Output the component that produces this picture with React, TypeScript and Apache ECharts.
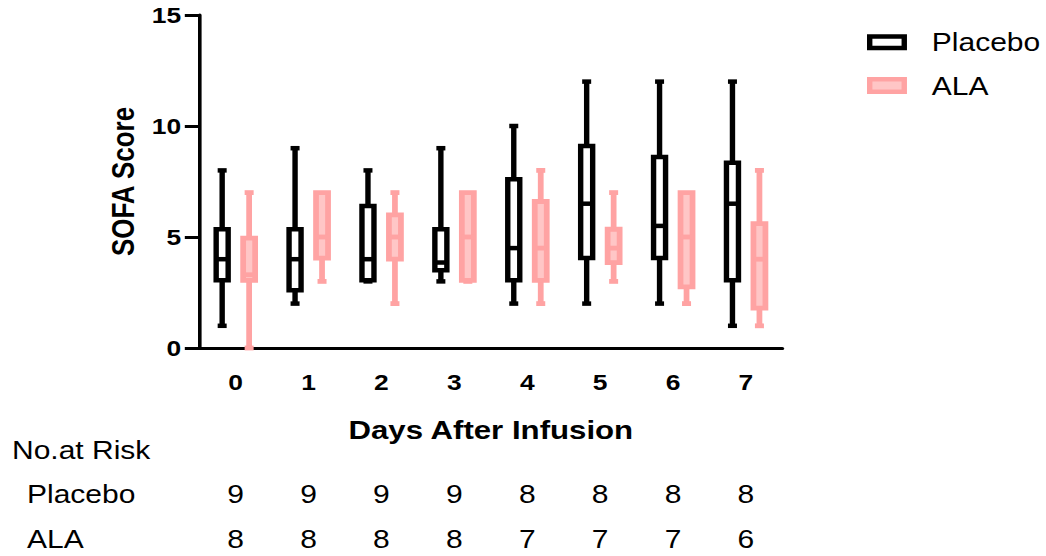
import React, { useEffect, useRef } from "react";
import * as echarts from "echarts";

// ---- data ----
const days = ["0", "1", "2", "3", "4", "5", "6", "7"];
// [min, q1, median, q3, max]
const placeboBox = [
  [1, 3.05, 4, 5.35, 8],
  [2, 2.6, 4, 5.35, 9],
  [3, 3.05, 4, 6.4, 8],
  [3, 3.5, 3.85, 5.35, 9],
  [2, 3.05, 4.5, 7.6, 10],
  [2, 4.05, 6.5, 9.1, 12],
  [2, 4.05, 5.5, 8.6, 12],
  [1, 3.05, 6.5, 8.35, 12],
];
const alaBox = [
  [0, 3.05, 3.3, 4.95, 7],
  [3, 4.05, 5, 7, 7],
  [2, 4, 5, 6, 7],
  [3, 3.05, 5, 7, 7],
  [2, 3.05, 4.5, 6.6, 8],
  [3, 3.85, 4.5, 5.35, 7],
  [2, 2.75, 5, 7, 7],
  [1, 1.8, 4, 5.6, 8],
];
const placeboAtRisk = [9, 9, 9, 9, 8, 8, 8, 8];
const alaAtRisk = [8, 8, 8, 8, 7, 7, 7, 6];
const groupNames = ["Placebo", "ALA"];

const FONT = "Arial, 'Liberation Sans', sans-serif";
const BLACK = "#000000";
const PINK = "#ffa3a3";
const PINK_LIGHT = "#ffc6c6";
const SX = 1.2; // the reference is stretched horizontally
const CHART_W = Math.round(1046 / SX);

function makeRender(offsetFrac: number, stroke: string, fill: string, lw: number) {
  return (params: any, api: any) => {
    const i = api.value(0);
    const band = api.size([1, 0])[0];
    const cx = api.coord([i, 0])[0] + offsetFrac * band;
    const y = (k: number) => api.coord([i, api.value(k)])[1];
    const yMin = y(1), yQ1 = y(2), yMed = y(3), yQ3 = y(4), yMax = y(5);
    const bw = 10;
    const capW = 7.5;
    const ls = { stroke, lineWidth: lw, lineCap: "butt" };
    const children: any[] = [];
    if (yQ3 - yMax > 0.5) {
      children.push({ type: "line", shape: { x1: cx, y1: yMax, x2: cx, y2: yQ3 }, style: ls });
      children.push({ type: "line", shape: { x1: cx - capW / 2, y1: yMax, x2: cx + capW / 2, y2: yMax }, style: ls });
    }
    if (yMin - yQ1 > 0.5) {
      children.push({ type: "line", shape: { x1: cx, y1: yQ1, x2: cx, y2: yMin }, style: ls });
      children.push({ type: "line", shape: { x1: cx - capW / 2, y1: yMin, x2: cx + capW / 2, y2: yMin }, style: ls });
    }
    children.push({
      type: "rect",
      shape: { x: cx - bw / 2, y: yQ3, width: bw, height: yQ1 - yQ3 },
      style: { fill, stroke, lineWidth: lw },
    });
    children.push({
      type: "line",
      shape: { x1: cx - bw / 2, y1: yMed, x2: cx + bw / 2, y2: yMed },
      style: ls,
    });
    return { type: "group", children };
  };
}

export default function App() {
  const ref = useRef<HTMLDivElement>(null);
  useEffect(() => {
    if (!ref.current) return;
    const chart = echarts.init(ref.current, null, { renderer: "svg" });
    const axisLabelBase = { fontFamily: FONT, color: BLACK };
    const option: any = {
      animation: false,
      backgroundColor: "#ffffff",
      grid: { left: 166, top: 15, width: 486, height: 333, outerBoundsMode: "none", containLabel: false },
      xAxis: [
        {
          type: "category",
          data: days,
          axisLine: { lineStyle: { color: BLACK, width: 3 } },
          axisTick: { alignWithLabel: true, length: 12, lineStyle: { color: BLACK, width: 3 } },
          axisLabel: { ...axisLabelBase, fontSize: 22, fontWeight: "bold", margin: 23 },
          name: "Days After Infusion",
          nameLocation: "middle",
          nameGap: 69,
          nameTextStyle: { fontFamily: FONT, fontSize: 26, fontWeight: "bold", color: BLACK },
          splitLine: { show: false },
        },
        {
          type: "category",
          data: days,
          position: "bottom",
          offset: 126,
          axisLine: { show: false },
          axisTick: { show: false },
          axisLabel: {
            ...axisLabelBase,
            fontSize: 25,
            margin: 8,
            formatter: (_v: string, idx: number) => String(placeboAtRisk[idx]),
          },
          splitLine: { show: false },
        },
        {
          type: "category",
          data: days,
          position: "bottom",
          offset: 171,
          axisLine: { show: false },
          axisTick: { show: false },
          axisLabel: {
            ...axisLabelBase,
            fontSize: 25,
            margin: 8,
            formatter: (_v: string, idx: number) => String(alaAtRisk[idx]),
          },
          splitLine: { show: false },
        },
      ],
      yAxis: {
        type: "value",
        min: 0,
        max: 15,
        interval: 5,
        axisLine: { show: true, lineStyle: { color: BLACK, width: 3 } },
        axisTick: { show: true, length: 12, lineStyle: { color: BLACK, width: 3 } },
        axisLabel: { ...axisLabelBase, fontSize: 22, fontWeight: "bold", margin: 15 },
        splitLine: { show: false },
        name: "SOFA Score",
        nameLocation: "middle",
        nameGap: 50,
        nameTextStyle: { fontFamily: FONT, fontSize: 26, fontWeight: "bold", color: BLACK },
      },
      series: [
        {
          type: "custom",
          name: groupNames[0],
          xAxisIndex: 0,
          renderItem: makeRender(-0.185, BLACK, "#ffffff", 4.5),
          encode: { x: 0, y: [1, 2, 3, 4, 5] },
          data: placeboBox.map((b, i) => [i, ...b]),
        },
        {
          type: "custom",
          name: groupNames[1],
          xAxisIndex: 0,
          renderItem: makeRender(0.185, PINK, PINK_LIGHT, 4.8),
          encode: { x: 0, y: [1, 2, 3, 4, 5] },
          data: alaBox.map((b, i) => [i, ...b]),
        },
      ],
      graphic: [
        {
          type: "rect",
          shape: { x: 724.75, y: 36.5, width: 28.8, height: 11.5 },
          style: { fill: "#ffffff", stroke: BLACK, lineWidth: 4.5 },
        },
        {
          type: "text",
          x: 776.5,
          y: 42,
          style: { text: groupNames[0], fontFamily: FONT, fontSize: 25, fill: BLACK, verticalAlign: "middle", align: "left" },
        },
        {
          type: "rect",
          shape: { x: 724.75, y: 79.25, width: 28.8, height: 12.5 },
          style: { fill: PINK_LIGHT, stroke: PINK, lineWidth: 4.5 },
        },
        {
          type: "text",
          x: 776.5,
          y: 86,
          style: { text: groupNames[1], fontFamily: FONT, fontSize: 25, fill: BLACK, verticalAlign: "middle", align: "left" },
        },
        {
          type: "text",
          x: 10,
          y: 450,
          style: { text: "No.at Risk", fontFamily: FONT, fontSize: 25, fill: BLACK, verticalAlign: "middle", align: "left" },
        },
        {
          type: "text",
          x: 22.5,
          y: 494,
          style: { text: groupNames[0], fontFamily: FONT, fontSize: 25, fill: BLACK, verticalAlign: "middle", align: "left" },
        },
        {
          type: "text",
          x: 22.5,
          y: 539,
          style: { text: groupNames[1], fontFamily: FONT, fontSize: 25, fill: BLACK, verticalAlign: "middle", align: "left" },
        },
      ],
    };
    chart.setOption(option);
    return () => chart.dispose();
  }, []);
  return (
    <div
      style={{
        position: "fixed",
        left: 0,
        top: 0,
        width: 1046,
        height: 556,
        overflow: "hidden",
        background: "#ffffff",
      }}
    >
      <div
        ref={ref}
        style={{
          width: CHART_W,
          height: 556,
          transform: `scaleX(${SX})`,
          transformOrigin: "0 0",
        }}
      />
    </div>
  );
}
